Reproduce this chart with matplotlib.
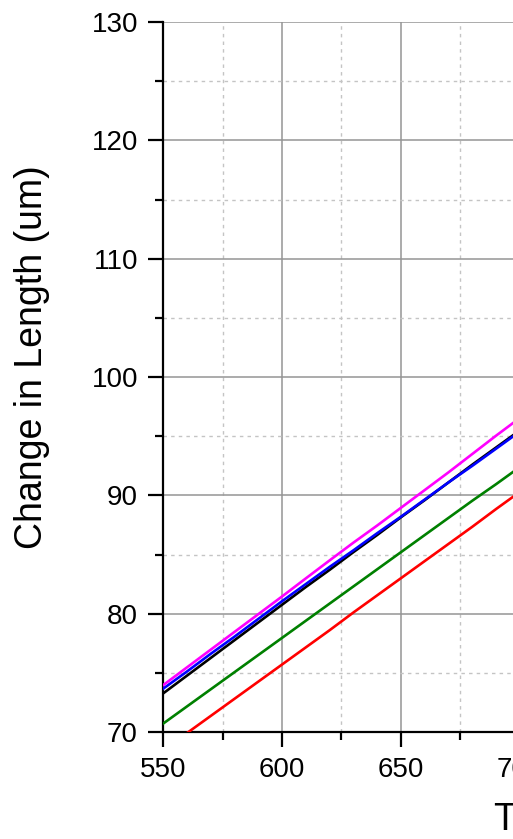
import matplotlib
matplotlib.use("Agg")
import matplotlib.pyplot as plt
import matplotlib.ticker as mticker

plt.rcParams["font.family"] = ["Liberation Sans", "DejaVu Sans"]

# Data (temperature vs change in length)
temps = [550, 560, 570, 580, 590, 600, 610, 620, 630, 640,
         650, 660, 670, 680, 690, 700, 710]
magenta_vals = [73.95, 75.45, 76.95, 78.45, 79.95, 81.45, 82.98, 84.5, 86.0, 87.45,
                88.95, 90.45, 91.95, 93.5, 95.05, 96.55, 98.05]
blue_vals = [73.65, 75.1, 76.6, 78.05, 79.55, 81.05, 82.5, 83.95, 85.35, 86.8,
             88.2, 89.65, 91.1, 92.5, 93.95, 95.4, 96.85]
black_vals = [73.25, 74.75, 76.25, 77.75, 79.25, 80.75, 82.25, 83.7, 85.2, 86.65,
              88.15, 89.6, 91.1, 92.6, 94.05, 95.5, 97.0]
green_vals = [70.7, 72.15, 73.6, 75.05, 76.5, 77.95, 79.4, 80.85, 82.3, 83.75,
              85.2, 86.65, 88.1, 89.55, 90.95, 92.4, 93.85]
red_vals = [68.45, 69.9, 71.35, 72.8, 74.25, 75.7, 77.15, 78.6, 80.1, 81.55,
            83.0, 84.45, 85.9, 87.35, 88.85, 90.3, 91.75]

W, H = 513, 839
fig = plt.figure(figsize=(W / 100, H / 100), dpi=100)

# axes extend past the right edge of the figure (reference is cropped)
x0, x1 = 550, 750
px_per_unit = 119 / 50
ax_w = (x1 - x0) * px_per_unit
ax = fig.add_axes([163 / W, (H - 732) / H, ax_w / W, 710 / H])

series = [
    (red_vals, "#ff0000"),
    (green_vals, "#008000"),
    (black_vals, "#000000"),
    (blue_vals, "#0000ff"),
    (magenta_vals, "#ff00ff"),
]
for vals, color in series:
    ax.plot(temps, vals, color=color, linewidth=1.9, zorder=3)

ax.set_xlim(x0, x1)
ax.set_ylim(70, 130)
ax.xaxis.set_major_locator(mticker.MultipleLocator(50))
ax.xaxis.set_minor_locator(mticker.MultipleLocator(25))
ax.yaxis.set_major_locator(mticker.MultipleLocator(10))
ax.yaxis.set_minor_locator(mticker.MultipleLocator(5))

ax.grid(True, which="major", color="#959595", linewidth=1.1, linestyle="-", zorder=0)
ax.grid(True, which="minor", color="#c4c4c4", linewidth=1.0,
        linestyle=(0, (2.5, 3)), zorder=0)
ax.set_axisbelow(True)
ax.get_ygridlines()[-1].set_visible(False)

ax.spines["top"].set_visible(False)
for side in ["left", "bottom", "right"]:
    ax.spines[side].set_linewidth(1.6)

ax.tick_params(which="major", direction="out", length=11, width=1.6,
               labelsize=20, pad=7)
ax.tick_params(which="minor", direction="out", length=5.5, width=1.6)

ax.set_ylabel("Change in Length (um)", fontsize=27)
ax.yaxis.set_label_coords((50 - 163) / ax_w, 0.5275)

ax.set_xlabel("Temperature (°C)", fontsize=27, ha="left", va="top")
ax.xaxis.set_label_coords((494 - 163) / ax_w, -70 / 710)

fig.savefig("out.png", dpi=100)
